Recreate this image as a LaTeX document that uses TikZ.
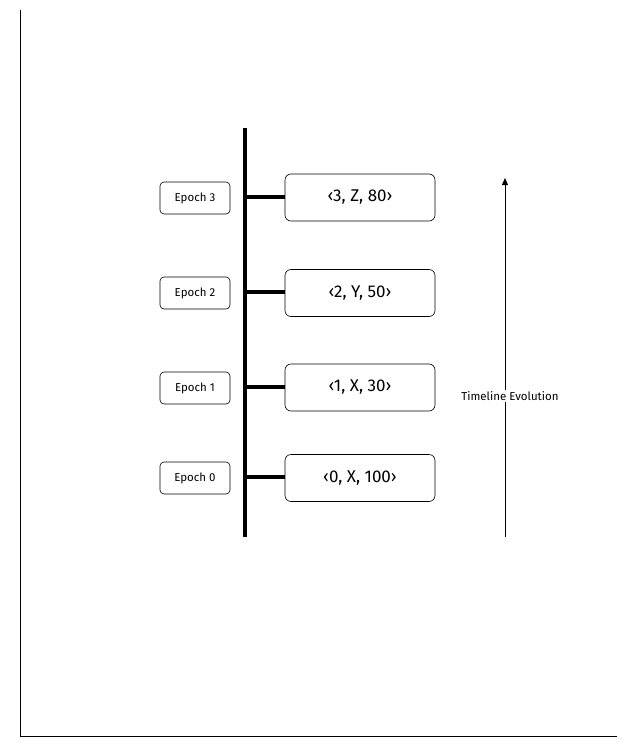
\documentclass[tikz,border=0pt]{standalone}
\usepackage{fontspec}
\setmainfont{Fira Sans}
\usetikzlibrary{arrows.meta}
\begin{document}
\begin{tikzpicture}[x=1pt,y=-1pt,
  epochbox/.style={draw,rounded corners=4pt,line width=0.6pt,minimum width=70pt,minimum height=32pt,inner sep=0pt,font=\fontsize{11.5}{13}\selectfont},
  valbox/.style={draw,rounded corners=6pt,line width=0.6pt,minimum width=150pt,minimum height=47pt,inner sep=0pt,font=\fontsize{17}{20}\selectfont},
  spine/.style={line width=3.5pt},
  frameline/.style={line width=1pt}]
  \useasboundingbox (0,0) rectangle (640,750);
  % frame axes
  \coordinate (ftop) at (20,10);
  \coordinate (fcorner) at (20,736);
  \coordinate (fright) at (617,736);
  \draw[frameline] (ftop) -- (fcorner) -- (fright);
  % timeline spine
  \coordinate (stop) at (245,128);
  \coordinate (sbot) at (245,537);
  \draw[spine] (stop) -- (sbot);
  % epochs and their values
  \node[epochbox] (e3) at (195,198) {Epoch 3};
  \node[epochbox] (e2) at (195,293) {Epoch 2};
  \node[epochbox] (e1) at (195,388) {Epoch 1};
  \node[epochbox] (e0) at (195,478) {Epoch 0};
  \node[valbox] (v3) at (360,197.5) {‹3, Z, 80›};
  \node[valbox] (v2) at (360,293) {‹2, Y, 50›};
  \node[valbox] (v1) at (360,387.5) {‹1, X, 30›};
  \node[valbox] (v0) at (360,478) {‹0, X, 100›};
  \foreach \v/\y in {v3/197,v2/292,v1/387,v0/477}{
    \coordinate (s\v) at (245,\y);
    \draw[spine] (s\v) -- (\v.west |- s\v);
  }
  % evolution arrow
  \coordinate (abot) at (505,537);
  \coordinate (atop) at (505,178);
  \draw[line width=1pt,-{Triangle[length=7pt,width=6pt]}] (abot) -- (atop);
  \node[fill=white,inner sep=1pt,font=\fontsize{11.5}{13}\selectfont] (lbl) at (510,396) {Timeline Evolution};
\end{tikzpicture}
\end{document}
